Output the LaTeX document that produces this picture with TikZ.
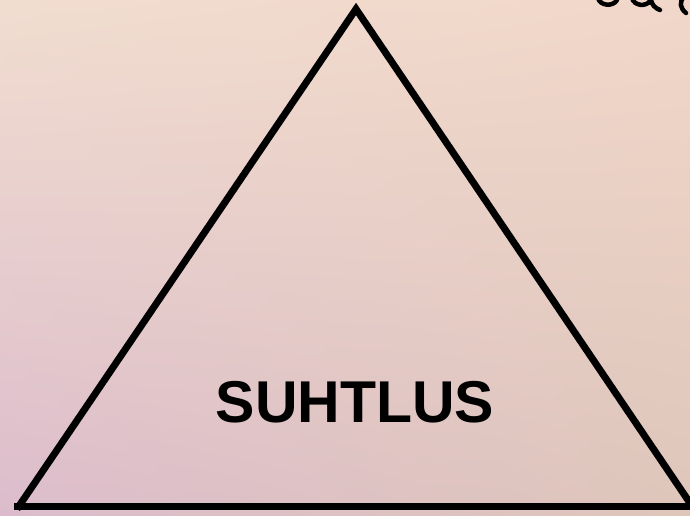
\documentclass[tikz,border=0pt]{standalone}
\usepackage{fontspec}
\setmainfont{Liberation Sans}
\usetikzlibrary{shadings}
\definecolor{bgul}{RGB}{241,221,208}
\definecolor{bgur}{RGB}{241,215,201}
\definecolor{bgll}{RGB}{220,188,204}
\definecolor{bglr}{RGB}{222,198,186}
\begin{document}
\begin{tikzpicture}[x=1pt,y=-1pt,
  edge/.style={line width=7pt, black},
  scrib/.style={line width=4.5pt, black, line cap=round},
  lbl/.style={font=\bfseries\fontsize{59}{62}\selectfont, inner sep=0pt}]
\useasboundingbox (0,0) rectangle (690,515);
\shade[upper left=bgul, upper right=bgur, lower left=bgll, lower right=bglr]
  (0,0) rectangle (690,515);
\coordinate (apex) at (356,9);
\coordinate (bl) at (17,509);
\coordinate (br) at (692,506);
\draw[edge, line join=miter] (br) -- (apex) -- (bl);
\draw[edge] (14,506) -- (br);
\node[lbl] (t) at (355,402) {SUHTLUS};
% partial handwriting cut off at the top right
\draw[scrib] (598,-2) .. controls (600,6) and (613,7) .. (617,0);
\draw[scrib] (632,-2) .. controls (634,6) and (646,7) .. (650,1);
\draw[scrib] (651,0) .. controls (652,5) and (655,8) .. (660,10);
\draw[scrib] (684,-3) .. controls (679,2) and (680,8) .. (686,13);
\end{tikzpicture}
\end{document}
